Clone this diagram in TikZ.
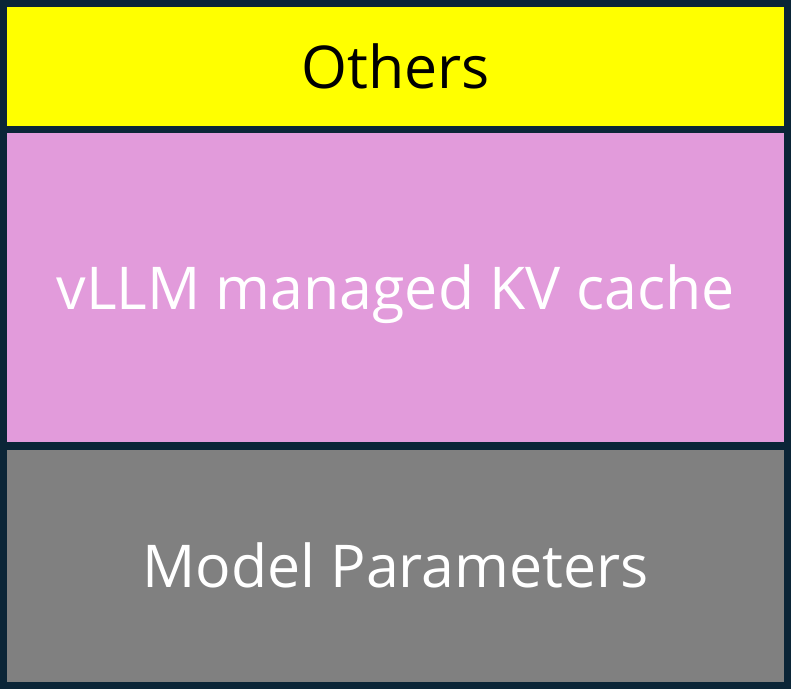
\documentclass[tikz,border=0pt]{standalone}
\usepackage{fontspec}
\setmainfont{Open Sans}
\definecolor{bgnavy}{RGB}{11,37,55}
\definecolor{lpink}{RGB}{226,155,219}
\definecolor{mgray}{RGB}{128,128,128}
\definecolor{pyellow}{RGB}{255,255,0}
\begin{document}
\begin{tikzpicture}[x=1pt,y=-1pt,
  layer/.style={inner sep=0pt, outer sep=0pt, minimum width=777pt, draw=none},
  lbl/.style={inner sep=0pt, font=\fontsize{59}{66}\selectfont, anchor=base}]
\fill[bgnavy] (0,0) rectangle (791,689);
\useasboundingbox (0,0) rectangle (791,689);
\node[layer, fill=pyellow, minimum height=119pt] (others) at (395.5,66.5) {};
\node[layer, fill=lpink, minimum height=309pt] (kv) at (395.5,287.5) {};
\node[layer, fill=mgray, minimum height=232pt] (params) at (395.5,566) {};
\node[lbl, text=black] (tOthers) at (395.5,88) {Others};
\node[lbl, text=white] (tKV) at (395.5,309) {vLLM managed KV cache};
\node[lbl, text=white] (tParams) at (395.5,587) {Model Parameters};
\end{tikzpicture}
\end{document}
